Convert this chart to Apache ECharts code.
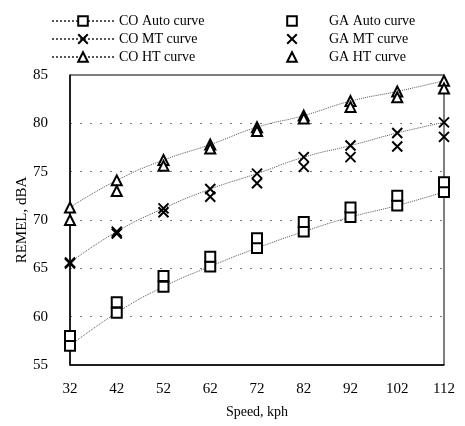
<!DOCTYPE html>
<html>
<head>
<meta charset="utf-8">
<script src="https://cdn.jsdelivr.net/npm/echarts@6/dist/echarts.min.js"></script>
<style>html,body{margin:0;padding:0;background:#fff;}#c{width:465px;height:426px;}</style>
</head>
<body>
<div id="c"></div>
<script>
const speeds = ['32','42','52','62','72','82','92','102','112'];
const coAuto = [57.0, 60.4, 63.1, 65.2, 67.1, 68.8, 70.3, 71.5, 72.9];
const gaAuto = [58.0, 61.5, 64.2, 66.2, 68.1, 69.8, 71.3, 72.5, 73.9];
const coMT   = [65.6, 68.8, 71.2, 73.2, 74.8, 76.5, 77.7, 79.0, 80.1];
const gaMT   = [65.5, 68.6, 70.8, 72.4, 73.8, 75.5, 76.5, 77.6, 78.6];
const coHT   = [71.3, 74.1, 76.2, 77.8, 79.6, 80.8, 82.3, 83.3, 84.4];
const gaHT   = [70.0, 73.0, 75.6, 77.4, 79.2, 80.5, 81.7, 82.7, 83.6];
const yTicks = [55, 85, 5];

const FONT = 'Liberation Serif';
const crossPath = 'path://M0,0L10,10M10,0L0,10';
const mk = {color: '#fff', borderColor: '#000', borderWidth: 2, opacity: 1};

function coSeries(name, data, symbol, size) {
  return {
    name, type: 'line', data, smooth: true,
    symbol, symbolSize: size, symbolKeepAspect: true,
    itemStyle: Object.assign({}, mk),
    lineStyle: {color: '#555', width: 1, type: 'dotted'},
    emphasis: {disabled: true},
    z: 3
  };
}
function gaSeries(name, data, symbol, size) {
  return {
    name, type: 'line', data,
    symbol, symbolSize: size, symbolKeepAspect: true, showAllSymbol: true,
    itemStyle: Object.assign({}, mk),
    lineStyle: {width: 0, opacity: 0},
    emphasis: {disabled: true},
    z: 4
  };
}

const chart = echarts.init(document.getElementById('c'), null, {renderer: 'canvas'});
chart.setOption({
  backgroundColor: '#fff',
  animation: false,
  textStyle: {fontFamily: FONT, color: '#000'},
  legend: [
    {
      data: ['CO Auto curve', 'CO MT curve', 'CO HT curve'],
      orient: 'vertical', left: 46, top: 9,
      itemWidth: 62, itemHeight: 12, itemGap: 4,
      textStyle: {fontFamily: FONT, fontSize: 14, color: '#000', lineHeight: 14}
    },
    {
      data: ['GA Auto curve', 'GA MT curve', 'GA HT curve'],
      orient: 'vertical', left: 255, top: 9,
      itemWidth: 64, itemHeight: 12, itemGap: 4,
      textStyle: {fontFamily: FONT, fontSize: 14, color: '#000', lineHeight: 14}
    }
  ],
  grid: {left: 70, right: 21, top: 75, bottom: 61, show: true, borderColor: '#000', borderWidth: 1,
         outerBoundsMode: 'none', containLabel: false},
  xAxis: {
    type: 'category', data: speeds, boundaryGap: false,
    name: 'Speed, kph', nameLocation: 'middle', nameGap: 40,
    nameTextStyle: {fontFamily: FONT, fontSize: 14, color: '#000'},
    axisLine: {lineStyle: {color: '#000', width: 1.5}},
    axisTick: {show: false},
    axisLabel: {fontFamily: FONT, fontSize: 15, color: '#000', margin: 17},
    splitLine: {show: false}
  },
  yAxis: {
    type: 'value', min: yTicks[0], max: yTicks[1], interval: yTicks[2],
    name: 'REMEL, dBA', nameLocation: 'middle', nameGap: 40, nameMoveOverlap: false,
    nameTextStyle: {fontFamily: FONT, fontSize: 15, color: '#000'},
    axisLine: {show: true, lineStyle: {color: '#000', width: 1.5}},
    axisTick: {show: false},
    axisLabel: {fontFamily: FONT, fontSize: 15, color: '#000', margin: 22},
    splitLine: {show: true, lineStyle: {color: '#777', width: 1, type: [2, 8]}}
  },
  series: [
    coSeries('CO Auto curve', coAuto, 'rect', 10),
    coSeries('CO MT curve', coMT, crossPath, 10),
    coSeries('CO HT curve', coHT, 'triangle', 10),
    gaSeries('GA Auto curve', gaAuto, 'rect', 10),
    gaSeries('GA MT curve', gaMT, crossPath, 10),
    gaSeries('GA HT curve', gaHT, 'triangle', 10)
  ]
});
</script>
</body>
</html>
